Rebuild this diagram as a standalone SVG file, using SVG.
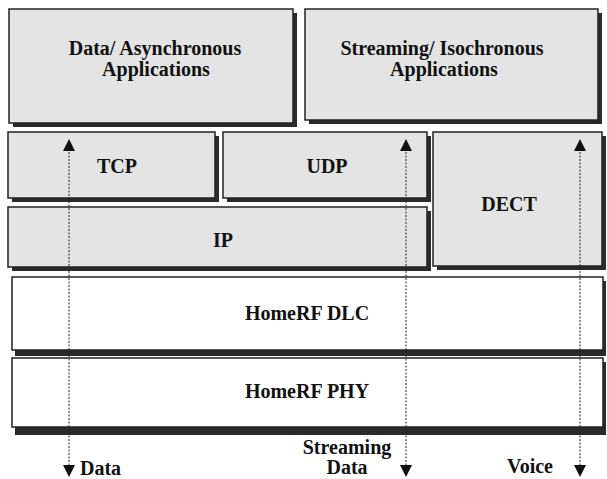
<svg xmlns="http://www.w3.org/2000/svg" width="607" height="479" viewBox="0 0 607 479">
<defs>
<marker id="ah" viewBox="0 0 10 10" refX="5" refY="5" markerWidth="12" markerHeight="12" markerUnits="userSpaceOnUse" orient="auto-start-reverse">
<path d="M0,0 L10,5 L0,10 Z" fill="#111"/>
</marker>
<style>
.sh{fill:#2a2a2a}
.g{fill:#e4e4e4;stroke:#222;stroke-width:1.5}
.w{fill:#fff;stroke:#222;stroke-width:1.5}
.t{font-family:"Liberation Serif","Times New Roman",serif;font-weight:bold;font-size:20px;fill:#111;text-anchor:middle}
.c{stroke:#222;stroke-width:1;stroke-dasharray:2 1.5;fill:none}
</style>
</defs>
<rect width="607" height="479" fill="#fff"/>
<g id="app-data">
<rect class="sh" x="13" y="13" width="284" height="114"/>
<rect class="g" x="9" y="9" width="284" height="114"/>
<text class="t" x="155" y="55">Data/ Asynchronous</text>
<text class="t" x="156" y="76">Applications</text>
</g>
<g id="app-stream">
<rect class="sh" x="309" y="13" width="293" height="111"/>
<rect class="g" x="305" y="9" width="293" height="111"/>
<text class="t" x="442" y="55">Streaming/ Isochronous</text>
<text class="t" x="444" y="76">Applications</text>
</g>
<g id="tcp">
<rect class="sh" x="12" y="136" width="207" height="66"/>
<rect class="g" x="8" y="132" width="207" height="66"/>
<text class="t" x="117" y="173">TCP</text>
</g>
<g id="udp">
<rect class="sh" x="227" y="136" width="204" height="66"/>
<rect class="g" x="223" y="132" width="204" height="66"/>
<text class="t" x="327" y="173">UDP</text>
</g>
<g id="ip">
<rect class="sh" x="12" y="211" width="419" height="60"/>
<rect class="g" x="8" y="207" width="419" height="60"/>
<text class="t" x="223" y="247">IP</text>
</g>
<g id="dect">
<rect class="sh" x="437" y="136" width="169" height="134"/>
<rect class="g" x="433" y="132" width="169" height="134"/>
<text class="t" x="509" y="211">DECT</text>
</g>
<g id="dlc">
<rect class="sh" x="15" y="281" width="591" height="75"/>
<rect class="w" x="12" y="277" width="591" height="73"/>
<text class="t" x="307" y="320">HomeRF DLC</text>
</g>
<g id="phy">
<rect class="sh" x="15" y="362" width="591" height="73"/>
<rect class="w" x="12" y="358" width="591" height="69"/>
<text class="t" x="307" y="398">HomeRF PHY</text>
</g>
<g id="connectors">
<line class="c" x1="69" y1="145" x2="69" y2="471" marker-start="url(#ah)" marker-end="url(#ah)"/>
<line class="c" x1="406" y1="145" x2="406" y2="471" marker-start="url(#ah)" marker-end="url(#ah)"/>
<line class="c" x1="580" y1="145" x2="580" y2="471" marker-start="url(#ah)" marker-end="url(#ah)"/>
</g>
<g id="labels">
<text class="t" x="80" y="475" style="text-anchor:start">Data</text>
<text class="t" x="347" y="454">Streaming</text>
<text class="t" x="347" y="474">Data</text>
<text class="t" x="530" y="473">Voice</text>
</g>
</svg>
